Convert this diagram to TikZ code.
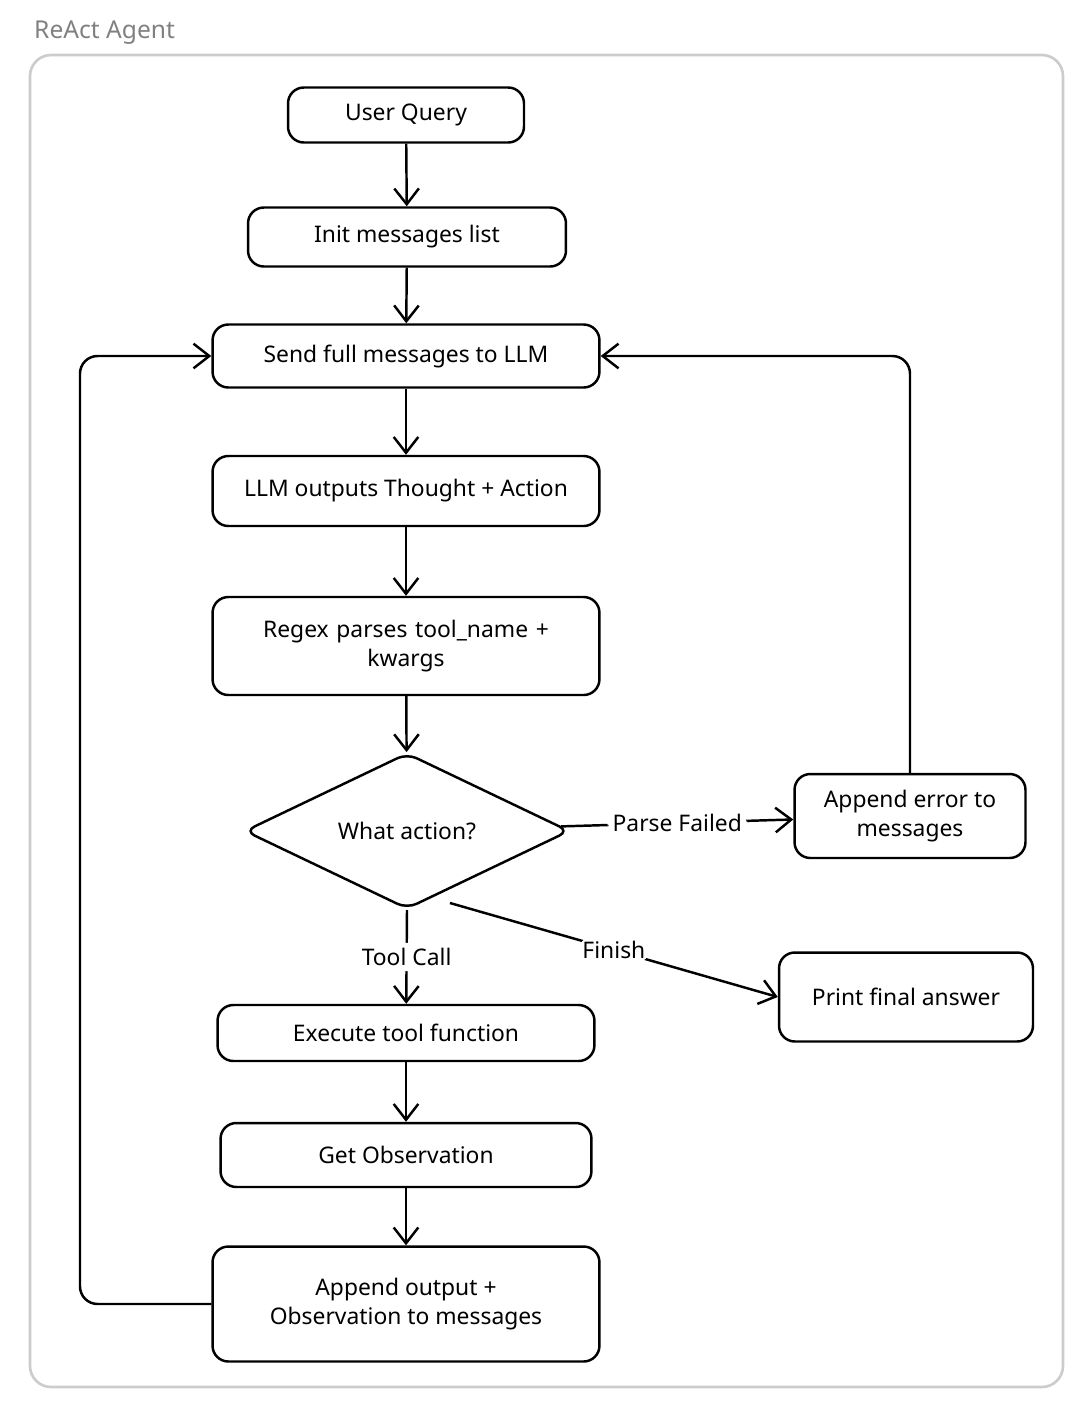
\documentclass[tikz,border=0pt]{standalone}
\usepackage{fontspec}
\setmainfont{Noto Sans}
\usetikzlibrary{shapes.geometric,arrows.meta}
\tikzstyle{stage}=[rectangle, rounded corners=9pt, draw=black, line width=1.4pt, align=center, font=\fontsize{13}{17}\selectfont]
\tikzstyle{choice}=[diamond, draw=black, line width=1.4pt, rounded corners=6pt, font=\fontsize{13}{17}\selectfont]
\tikzstyle{flow}=[-{Straight Barb[length=9pt,width=14pt]}, draw=black, line width=1.4pt, rounded corners=10pt]
\tikzstyle{tag}=[fill=white, inner sep=3pt, font=\fontsize{13}{17}\selectfont]
\begin{document}
\begin{tikzpicture}[x=0.02cm, y=-0.02cm]
    \useasboundingbox (0,0) rectangle (1092,1404);
    \draw [gray!40, line width=1.5pt, rounded corners=12pt] (30,55) rectangle (1063,1387);
    \node [anchor=west, text=gray, font=\fontsize{14}{17}\selectfont] (title) at (28,33) {ReAct Agent};
    \node [style=stage, minimum width=4.72cm, minimum height=1.1cm] (query) at (406,115) {User Query};
    \node [style=stage, minimum width=6.36cm, minimum height=1.18cm] (init) at (407,237) {Init messages list};
    \node [style=stage, minimum width=7.74cm, minimum height=1.26cm] (send) at (406,356) {Send full messages to LLM};
    \node [style=stage, minimum width=7.74cm, minimum height=1.4cm] (think) at (406,491) {LLM outputs Thought + Action};
    \node [style=stage, minimum width=7.74cm, minimum height=1.96cm, text width=6.6cm] (parse) at (406,646) {Regex parses tool\_name +\\ kwargs};
    \node [style=choice, minimum width=6.5cm, minimum height=2.96cm, inner sep=0pt] (what) at (407,831) {What action?};
    \node [style=stage, minimum width=4.62cm, minimum height=1.68cm] (error) at (910,816) {Append error to\\ messages};
    \node [style=stage, minimum width=5.08cm, minimum height=1.78cm] (final) at (906,997) {Print final answer};
    \node [style=stage, minimum width=7.54cm, minimum height=1.12cm] (exec) at (406,1033) {Execute tool function};
    \node [style=stage, minimum width=7.42cm, minimum height=1.28cm] (obs) at (406,1155) {Get Observation};
    \node [style=stage, minimum width=7.74cm, minimum height=2.3cm] (append) at (406,1304) {Append output +\\ Observation to messages};
    \draw [style=flow] (query) -- (init);
    \draw [style=flow] (init) -- (send);
    \draw [style=flow] (send) -- (think);
    \draw [style=flow] (think) -- (parse);
    \draw [style=flow] (parse) -- (what);
    \draw [style=flow] (what) -- node [style=tag] {Parse Failed} (error);
    \draw [style=flow] (what.south) -- node [style=tag] {Tool Call} (exec);
    \draw [style=flow] (450,903) -- node [style=tag, pos=0.5] {Finish} (final.west);
    \draw [style=flow] (exec) -- (obs);
    \draw [style=flow] (obs) -- (append);
    \draw [style=flow] (append.west) -| (80,356) -- (send.west);
    \draw [style=flow] (error.north) |- (send.east);
\end{tikzpicture}
\end{document}
